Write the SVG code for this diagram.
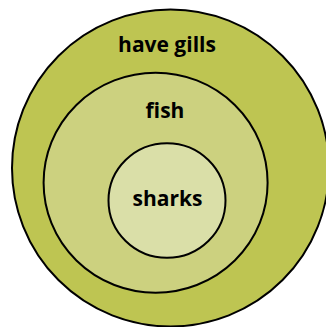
<svg xmlns="http://www.w3.org/2000/svg" width="326" height="327" viewBox="0 0 326 327">
<style>
.ring{stroke:#000;stroke-width:2}
.lbl{font-family:"Open Sans","Liberation Sans",sans-serif;font-weight:bold;font-size:21px;fill:#000;text-anchor:middle}
</style>
<rect width="326" height="327" fill="#fff"/>
<g id="have-gills">
<circle class="ring" cx="170.5" cy="168" r="158.5" fill="#bec552"/>
<text class="lbl" x="167" y="52">have gills</text>
</g>
<g id="fish">
<ellipse class="ring" cx="155.6" cy="182.7" rx="112" ry="110" fill="#ccd17f"/>
<text class="lbl" x="165" y="118">ﬁsh</text>
</g>
<g id="sharks">
<ellipse class="ring" cx="167" cy="200.5" rx="58.5" ry="57.3" fill="#dadfa8"/>
<text class="lbl" x="167.5" y="206">sharks</text>
</g>
<g id="connectors"/>
</svg>
